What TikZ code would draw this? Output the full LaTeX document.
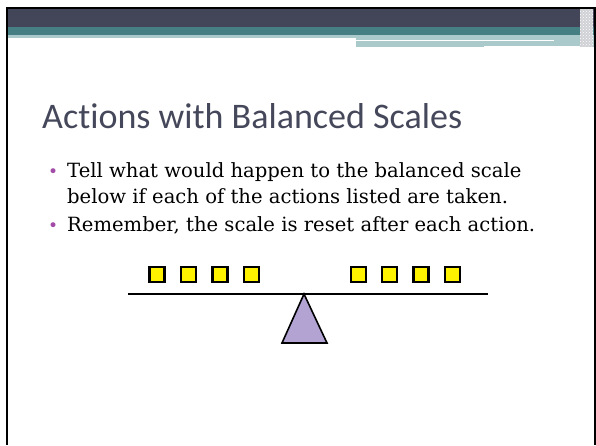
\documentclass[tikz,border=0pt]{standalone}
\usepackage{fontspec}
\setmainfont{DejaVu Serif}
\newfontfamily\titlefont[Ligatures=NoCommon]{Carlito}
\usetikzlibrary{positioning, calc, patterns}
\definecolor{bandDark}{HTML}{434558}
\definecolor{bandTeal}{HTML}{457F83}
\definecolor{bandLight}{HTML}{A9C9CA}
\definecolor{titleInk}{HTML}{45475A}
\definecolor{bulletInk}{HTML}{A24CA8}
\definecolor{weightFill}{HTML}{FFF200}
\definecolor{pivotFill}{HTML}{B3A3D3}
\def\pageW{596}
\def\pageH{445}
\def\splitX{356}
\def\beamY{294}
\def\weightS{15}

\begin{document}
\begin{tikzpicture}[x=1pt, y=-1pt,
    weight/.style={draw=black, line width=2.2pt, fill=weightFill,
                   minimum size=\weightS pt, inner sep=0pt},
    bodytext/.style={anchor=base west, inner sep=0pt,
                     font=\fontsize{19.6}{23}\selectfont},
    bulletdot/.style={anchor=base west, inner sep=0pt, text=bulletInk,
                      font=\fontsize{17}{20}\selectfont}]

    \useasboundingbox (0,0) rectangle (\pageW,\pageH);

    % ==========================================================
    % 1. HEADER BANDS
    % ==========================================================
    \fill[bandDark]  (8,9)  rectangle (594,27);
    \fill[bandTeal]  (8,27) rectangle (594,35);
    \fill[bandLight] (8,35) rectangle (\splitX,38);
    \fill[bandLight] (\splitX,35) rectangle (594,47);
    % thin white rules in the right block
    \draw[white, line width=1pt] (\splitX,40.5) -- (554,40.5);
    \draw[white, line width=1pt] (484,46) -- (587,46);
    % speckled strip at the far right
    \fill[white!75!bandDark] (580,9) rectangle (593,47);
    \fill[pattern=crosshatch dots, pattern color=white] (580,9) rectangle (593,47);

    % ==========================================================
    % 2. FRAME
    % ==========================================================
    \fill[black] (6,7) rectangle (\pageW,9);
    \fill[black] (6,7) rectangle (8,\pageH);
    \fill[black] (594,7) rectangle (\pageW,\pageH);

    % ==========================================================
    % 3. TITLE AND BULLETS
    % ==========================================================
    \node[anchor=base west, inner sep=0pt, text=titleInk,
          font=\titlefont\fontsize{36}{42}\selectfont]
        (title) at (42,128) {Actions with Balanced Scales};

    \node[bulletdot] (dotA) at (48,177.5) {\textbullet};
    \node[bodytext]  (lineA) at (67,177.5)
        {Tell what would happen to the balanced scale};
    \node[bodytext]  (lineB) at (67,203.5)
        {below if each of the actions listed are taken.};
    \node[bulletdot] (dotB) at (48,231) {\textbullet};
    \node[bodytext]  (lineC) at (67,231)
        {Remember, the scale is reset after each action.};

    % ==========================================================
    % 4. THE SCALE
    % ==========================================================
    \coordinate (beamL) at (128,\beamY);
    \coordinate (beamR) at (488,\beamY);
    \coordinate (apex)  at (304,\beamY);
    \coordinate (baseL) at (282,343);
    \coordinate (baseR) at (327,343);

    % Pivot
    \filldraw[fill=pivotFill, draw=black, line width=1.6pt, line join=miter]
        (apex) -- (baseR) -- (baseL) -- cycle;
    % Beam
    \draw[black, line width=1.8pt] (beamL) -- (beamR);

    % Weights on each side
    \foreach \i in {0,...,3} {
        \node[weight] (wLeft\i)  at (157+31.5*\i, 274.5) {};
        \node[weight] (wRight\i) at (358.5+31.2*\i, 274.5) {};
    }

\end{tikzpicture}
\end{document}
